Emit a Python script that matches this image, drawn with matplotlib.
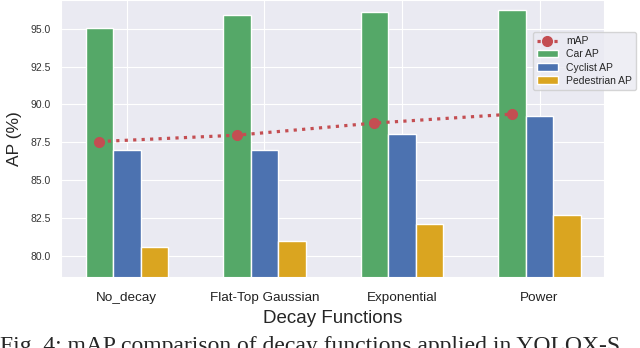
import matplotlib
matplotlib.use("Agg")
import matplotlib.pyplot as plt
import numpy as np
import seaborn as sns

sns.set_style("darkgrid")
plt.rcParams['font.family'] = ['Liberation Sans', 'DejaVu Sans']

decay_functions = ["No_decay", "Flat-Top Gaussian", "Exponential", "Power"]
car_ap = [95.07, 95.88, 96.12, 96.23]
cyclist_ap = [86.96, 87.02, 88.06, 89.25]
pedestrian_ap = [80.57, 81.01, 82.09, 82.69]
map_values = [87.55, 87.97, 88.77, 89.36]

x = np.arange(len(decay_functions))
w = 0.2

fig = plt.figure(figsize=(6.4, 3.48), dpi=100)
ax = fig.add_axes([0.095, 0.204, 0.849, 0.796])

ax.plot(x - w, map_values, color='#C44E52', linestyle=':', linewidth=2.3,
        marker='o', markersize=7, label='mAP', zorder=5)
ax.bar(x - w, car_ap, w, color='#55A868', edgecolor='white', linewidth=1, label='Car AP')
ax.bar(x, cyclist_ap, w, color='#4C72B0', edgecolor='white', linewidth=1, label='Cyclist AP')
ax.bar(x + w, pedestrian_ap, w, color='#DAA520', edgecolor='white', linewidth=1, label='Pedestrian AP')

ax.set_xlim(-0.48, 3.47)
ax.set_ylim(78.6, 96.9)
ax.set_yticks([80.0, 82.5, 85.0, 87.5, 90.0, 92.5, 95.0])
ax.set_yticklabels(["80.0", "82.5", "85.0", "87.5", "90.0", "92.5", "95.0"])
ax.set_xticks(x)
ax.set_xticklabels(decay_functions)
ax.tick_params(axis='both', length=0)
ax.tick_params(axis='y', labelsize=7.5, pad=7, labelcolor='#333333')
ax.tick_params(axis='x', labelsize=9.7, pad=11, labelcolor='#222222')
ax.set_xlabel("Decay Functions", fontsize=13.5, labelpad=4)
ax.set_ylabel("AP (%)", fontsize=12.5, labelpad=6)

ax.legend(loc='upper right', bbox_to_anchor=(1.059, 0.884), borderaxespad=0,
          fontsize=7.5, labelspacing=0.3, frameon=True,
          facecolor='#EAEAF2', edgecolor='#CCCCCC')

fig.text(0.0, -0.0104, "Fig. 4: mAP comparison of decay functions applied in YOLOX-S.",
         family='Liberation Serif', fontsize=17, va='baseline', ha='left')

fig.savefig("out.png", dpi=100)
